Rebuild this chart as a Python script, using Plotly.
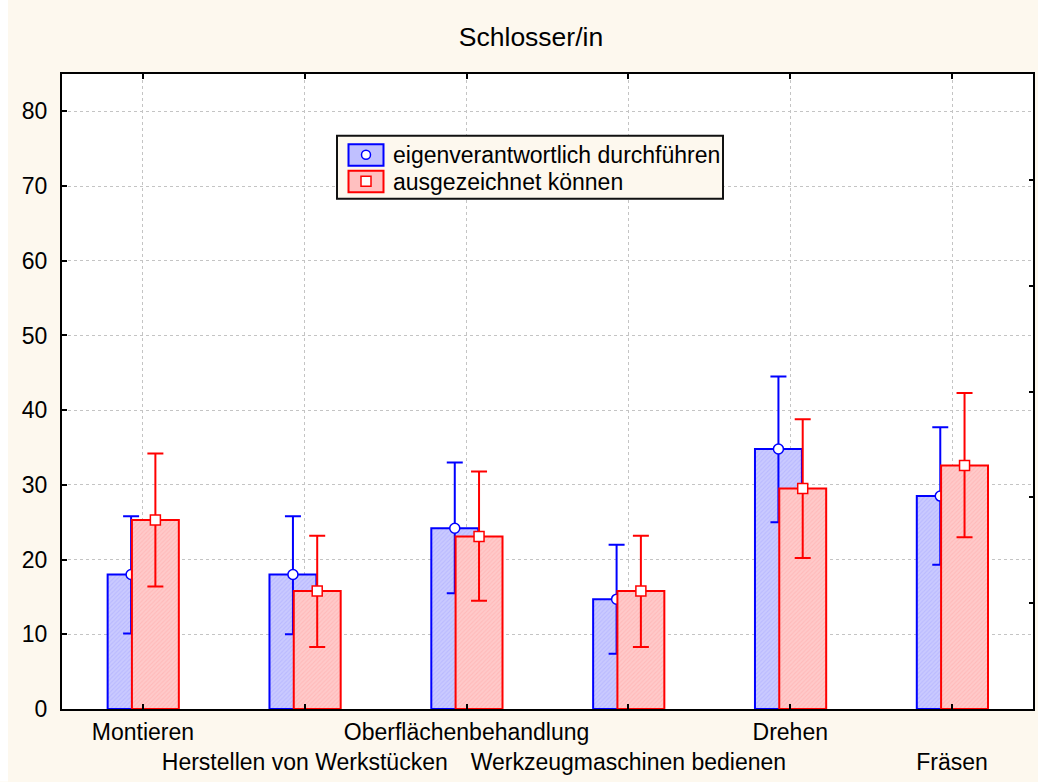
import plotly.graph_objects as go

categories = ["Montieren", "Herstellen von Werkstücken", "Oberflächenbehandlung",
              "Werkzeugmaschinen bedienen", "Drehen", "Fräsen"]
series_names = ["eigenverantwortlich durchführen", "ausgezeichnet können"]

blue_mean = [18.0, 18.0, 24.2, 14.7, 34.8, 28.5]
blue_upper = [25.8, 25.8, 33.0, 22.0, 44.5, 37.7]
blue_lower = [10.1, 10.0, 15.5, 7.4, 25.0, 19.3]

red_mean = [25.3, 15.8, 23.1, 15.8, 29.5, 32.6]
red_upper = [34.2, 23.2, 31.8, 23.2, 38.8, 42.3]
red_lower = [16.4, 8.3, 14.5, 8.3, 20.2, 23.0]

y_ticks = [0, 10, 20, 30, 40, 50, 60, 70, 80]

W, H = 1038, 782
L, R, T, B = 62, 1033, 74.3, 709.5

BLUE = "#0000ff"
RED = "#ff0000"
CREAM = "#fdf8ee"
FONT = "Liberation Sans, Arial, sans-serif"
FS = 23

bar_w = 0.29
blue_off = -0.218
red_off = -0.068

xi = list(range(len(categories)))
ticktext = [c if i % 2 == 0 else "<br>" + c for i, c in enumerate(categories)]

fig = go.Figure()

# Blue series on main subplot
fig.add_trace(go.Bar(
    x=xi, y=blue_mean, width=bar_w, offset=blue_off, name=series_names[0],
    marker=dict(color="#c4c4ff", line=dict(color=BLUE, width=2),
                pattern=dict(shape="/", fgcolor="#a8a8ff", bgcolor="#cacaff",
                             size=3, solidity=0.35)),
    showlegend=False, xaxis="x", yaxis="y"))
fig.add_trace(go.Scatter(
    x=[i + blue_off + bar_w / 2 for i in xi], y=blue_mean, mode="markers",
    marker=dict(symbol="circle", size=10, color="white", line=dict(color=BLUE, width=1.5)),
    error_y=dict(type="data", symmetric=False,
                 array=[u - m for u, m in zip(blue_upper, blue_mean)],
                 arrayminus=[m - l for m, l in zip(blue_mean, blue_lower)],
                 color=BLUE, thickness=2, width=8),
    showlegend=False, xaxis="x", yaxis="y"))

# Red series on overlay subplot (drawn on top)
fig.add_trace(go.Bar(
    x=xi, y=red_mean, width=bar_w, offset=red_off, name=series_names[1],
    marker=dict(color="#ffc4c4", line=dict(color=RED, width=2),
                pattern=dict(shape="/", fgcolor="#ffa8a8", bgcolor="#ffcaca",
                             size=3, solidity=0.35)),
    showlegend=False, xaxis="x2", yaxis="y2"))
fig.add_trace(go.Scatter(
    x=[i + red_off + bar_w / 2 for i in xi], y=red_mean, mode="markers",
    marker=dict(symbol="square", size=10, color="white", line=dict(color=RED, width=1.5)),
    error_y=dict(type="data", symmetric=False,
                 array=[u - m for u, m in zip(red_upper, red_mean)],
                 arrayminus=[m - l for m, l in zip(red_mean, red_lower)],
                 color=RED, thickness=2, width=8),
    showlegend=False, xaxis="x2", yaxis="y2"))


def px(x):
    return (x - L) / (R - L)


def py(y):
    return (B - y) / (B - T)


shapes = [
    # white strip at left edge
    dict(type="rect", xref="paper", yref="paper", x0=px(0), x1=px(8), y0=py(H), y1=py(0),
         fillcolor="white", line=dict(width=0), layer="below"),
    # legend box
    dict(type="rect", xref="paper", yref="paper", x0=px(337), x1=px(723), y0=py(199), y1=py(136),
         fillcolor=CREAM, line=dict(color="#111111", width=2), layer="above"),
    dict(type="rect", xref="paper", yref="paper", x0=px(348.5), x1=px(383.5), y0=py(166), y1=py(144.5),
         fillcolor="#c0c0ff", line=dict(color=BLUE, width=2), layer="above"),
    dict(type="circle", xref="paper", yref="paper", x0=px(361.5), x1=px(370.5), y0=py(159.5), y1=py(150.5),
         fillcolor="white", line=dict(color=BLUE, width=1.5), layer="above"),
    dict(type="rect", xref="paper", yref="paper", x0=px(348.5), x1=px(383.5), y0=py(192.5), y1=py(171),
         fillcolor="#ffc0c0", line=dict(color=RED, width=2), layer="above"),
    dict(type="rect", xref="paper", yref="paper", x0=px(361), x1=px(371), y0=py(186.5), y1=py(176.5),
         fillcolor="white", line=dict(color=RED, width=1.5), layer="above"),
]

annotations = [
    dict(text=series_names[0], xref="paper", yref="paper", x=px(391), y=py(155.5),
         xanchor="left", yanchor="middle", showarrow=False,
         font=dict(family=FONT, size=FS, color="black")),
    dict(text=series_names[1], xref="paper", yref="paper", x=px(391), y=py(182),
         xanchor="left", yanchor="middle", showarrow=False,
         font=dict(family=FONT, size=FS, color="black")),
]

fig.update_layout(
    width=W, height=H,
    margin=dict(l=L, r=W - R, t=T, b=H - B, pad=0, autoexpand=False),
    paper_bgcolor=CREAM, plot_bgcolor="white",
    barmode="overlay",
    font=dict(family=FONT, size=FS, color="black"),
    title=dict(text="Schlosser/in", x=531 / W, xref="container", xanchor="center",
               y=1 - 37 / H, yref="container", yanchor="middle",
               font=dict(family=FONT, size=26.5, color="black")),
    showlegend=False,
    xaxis=dict(range=[-0.5, 5.5], tickmode="array", tickvals=xi, ticktext=ticktext,
               tickangle=0, automargin=False,
               showline=True, linecolor="black", linewidth=2, mirror="ticks",
               ticks="inside", ticklen=5, tickwidth=1.5, tickcolor="black",
               showgrid=True, gridcolor="#c4c4c4", griddash="dot", gridwidth=1,
               zeroline=False, tickfont=dict(size=FS), ticklabelstandoff=1),
    yaxis=dict(range=[0, 85], tickmode="array", tickvals=y_ticks, automargin=False,
               showline=True, linecolor="black", linewidth=2, mirror=True,
               ticks="inside", ticklen=5, tickwidth=1.5, tickcolor="black",
               showgrid=True, gridcolor="#c4c4c4", griddash="dot", gridwidth=1,
               zeroline=False, tickfont=dict(size=FS), ticklabelstandoff=8),
    xaxis2=dict(range=[-0.5, 5.5], overlaying="x", visible=False, automargin=False),
    yaxis2=dict(range=[0, 85], overlaying="y", side="right", tickmode="linear",
                tick0=0, dtick=85 / 6, ticks="inside", ticklen=4, tickwidth=1.5,
                tickcolor="black", showticklabels=False, showgrid=False,
                showline=False, zeroline=False, automargin=False),
    shapes=shapes,
    annotations=annotations,
)

fig.write_html("out.html")
